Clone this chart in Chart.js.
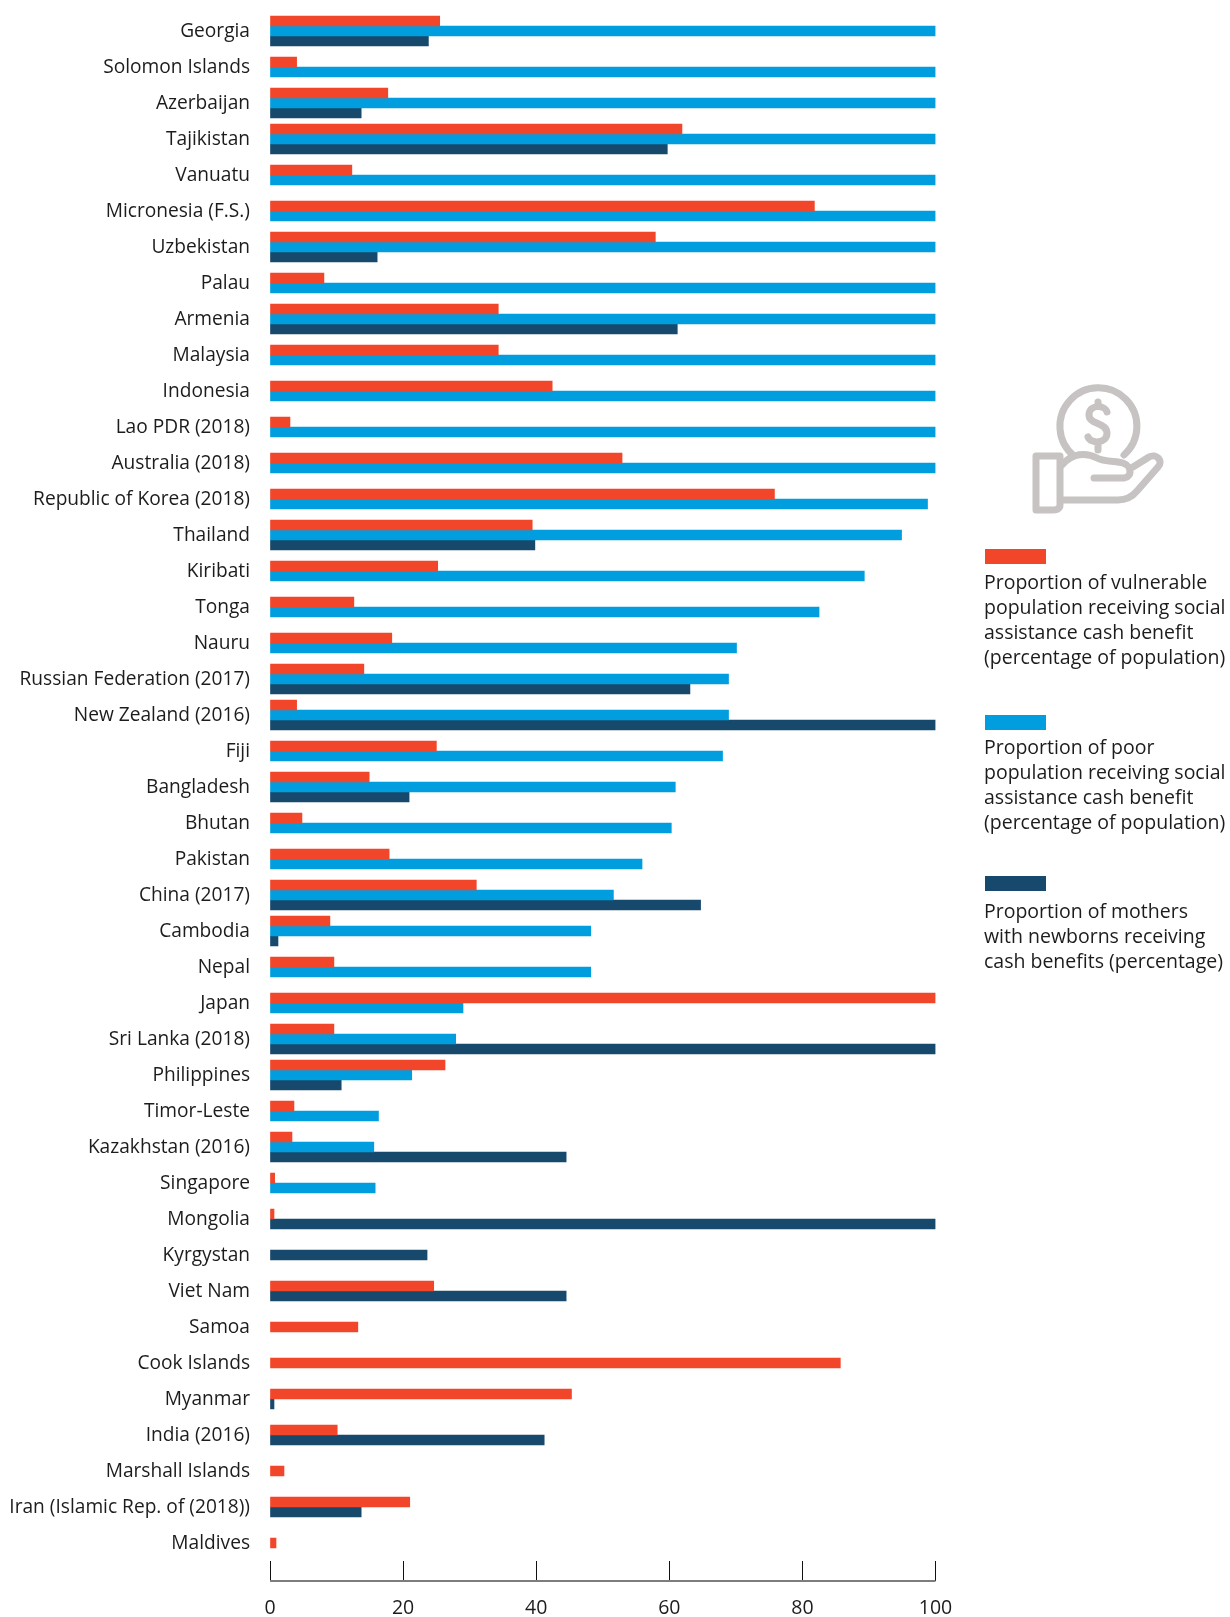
<!DOCTYPE html>
<html>
<head>
<meta charset="utf-8">
<title>Social assistance cash benefit coverage</title>
<script src="https://cdn.jsdelivr.net/npm/chart.js@4"></script>
<style>
html,body{margin:0;padding:0;background:#fff;}
#wrap{position:relative;width:1230px;height:1617px;overflow:hidden;}
#wrap canvas{position:absolute;left:0;top:0;}
.swatch{position:absolute;left:985px;width:61px;height:15px;}
.ltext{position:absolute;left:984px;width:246px;font:19.5px/25px "Open Sans",sans-serif;color:#1c1c1c;white-space:nowrap;}
#icon{position:absolute;left:0;top:0;}
</style>
</head>
<body>
<div id="wrap">
<canvas id="c" width="1230" height="1617"></canvas>
<svg id="icon" width="1230" height="1617" fill="none" stroke="#c6c3c2" stroke-width="7" stroke-linecap="round" stroke-linejoin="round">
  <path d="M1074 456 A38.5 38.5 0 1 1 1124 455"/>
  <path d="M1107 412 C1105 405 1090 404 1089 414 C1088 425 1107 422 1107 433 C1107 444 1091 444 1088 437 M1098 402 V406 M1098 445 V450"/>
  <path d="M1036 456 H1060 V505 Q1060 510 1052 510 H1036 Z"/>
  <path d="M1062 465 C1072 453 1086 452 1097 458 C1104 462 1116 461 1123 463 C1132 466 1133 478 1122 478 H1094"/>
  <path d="M1133 467 L1149 457 C1156 453 1164 461 1158 467 L1137 491 C1132 497 1127 500 1118 500 H1062"/>
</svg>
<div class="swatch" style="top:549px;background:#f2462b"></div>
<div class="ltext" style="top:569px">Proportion of vulnerable<br>population receiving social<br>assistance cash benefit<br>(percentage of population)</div>
<div class="swatch" style="top:715px;background:#009ede"></div>
<div class="ltext" style="top:734px">Proportion of poor<br>population receiving social<br>assistance cash benefit<br>(percentage of population)</div>
<div class="swatch" style="top:876px;background:#17496d"></div>
<div class="ltext" style="top:898px">Proportion of mothers<br>with newborns receiving<br>cash benefits (percentage)</div>
</div>
<script>
const categories = ["Georgia","Solomon Islands","Azerbaijan","Tajikistan","Vanuatu","Micronesia (F.S.)","Uzbekistan","Palau","Armenia","Malaysia","Indonesia","Lao PDR (2018)","Australia (2018)","Republic of Korea (2018)","Thailand","Kiribati","Tonga","Nauru","Russian Federation (2017)","New Zealand (2016)","Fiji","Bangladesh","Bhutan","Pakistan","China (2017)","Cambodia","Nepal","Japan","Sri Lanka (2018)","Philippines","Timor-Leste","Kazakhstan (2016)","Singapore","Mongolia","Kyrgystan","Viet Nam","Samoa","Cook Islands","Myanmar","India (2016)","Marshall Islands","Iran (Islamic Rep. of (2018))","Maldives"];
const vulnerable = [25.5,4.0,17.7,61.9,12.3,81.8,57.9,8.1,34.3,34.3,42.4,3.0,52.9,75.8,39.4,25.2,12.6,18.3,14.1,4.0,25.0,14.9,4.8,17.9,31.0,9.0,9.6,100,9.6,26.3,3.6,3.3,0.7,0.6,null,24.6,13.2,85.7,45.3,10.1,2.1,21.0,0.9];
const poor = [100,100,100,100,100,100,100,100,100,100,100,100,100,98.8,94.9,89.3,82.5,70.1,68.9,68.9,68.0,60.9,60.3,55.9,51.6,48.2,48.2,29.0,27.9,21.3,16.3,15.6,15.8,null,null,null,null,null,null,null,null,null,null];
const mothers = [23.8,null,13.7,59.7,null,null,16.1,null,61.2,null,null,null,null,null,39.8,null,null,null,63.1,100,null,20.9,null,null,64.7,1.2,null,null,100,10.7,null,44.5,null,100,23.6,44.5,null,null,0.6,41.2,null,13.7,null];
const seriesNames = ["Proportion of vulnerable population receiving social assistance cash benefit (percentage of population)","Proportion of poor population receiving social assistance cash benefit (percentage of population)","Proportion of mothers with newborns receiving cash benefits (percentage)"];
const xTicks = [0,20,40,60,80,100];

const axisLine = {
  id: 'axisLine',
  afterDraw(chart) {
    const s = chart.scales.x, y = s.top + 20, c = chart.ctx;
    c.save();
    c.strokeStyle = '#7d7d7d';
    c.lineWidth = 2;
    c.beginPath();
    c.moveTo(s.getPixelForValue(0), y);
    c.lineTo(s.getPixelForValue(100), y);
    c.stroke();
    c.restore();
  }
};

new Chart(document.getElementById('c'), {
  type: 'bar',
  plugins: [axisLine],
  data: {
    labels: categories,
    datasets: [
      {label: seriesNames[0], data: vulnerable, backgroundColor: '#f2462b'},
      {label: seriesNames[1], data: poor, backgroundColor: '#009ede'},
      {label: seriesNames[2], data: mothers, backgroundColor: '#17496d'}
    ].map(d => Object.assign(d, {skipNull: true, barThickness: 10, borderWidth: 0}))
  },
  options: {
    indexAxis: 'y',
    responsive: false,
    animation: false,
    layout: {padding: {top: 13, right: 294.5, left: 0, bottom: 0}},
    plugins: {legend: {display: false}, tooltip: {enabled: false}},
    scales: {
      x: {
        type: 'linear', min: 0, max: 100,
        afterBuildTicks(s) { s.ticks = xTicks.map(v => ({value: v})); },
        afterFit(s) { s.height = 56; s.paddingLeft = 0; s.paddingRight = 0; },
        border: {display: false},
        grid: {drawOnChartArea: false, drawTicks: true, tickLength: 20, color: '#111', lineWidth: 1},
        ticks: {padding: 16, maxRotation: 0, color: '#1c1c1c', font: {family: '"Open Sans"', size: 19.5}}
      },
      y: {
        type: 'category',
        afterFit(s) { s.width = 270; s.paddingTop = 0; s.paddingBottom = 0; },
        border: {display: false},
        grid: {display: false, drawTicks: false},
        ticks: {padding: 20, autoSkip: false, labelOffset: 0.5, color: '#1c1c1c', font: {family: '"Open Sans"', size: 19.15}}
      }
    }
  }
});
</script>
</body>
</html>
